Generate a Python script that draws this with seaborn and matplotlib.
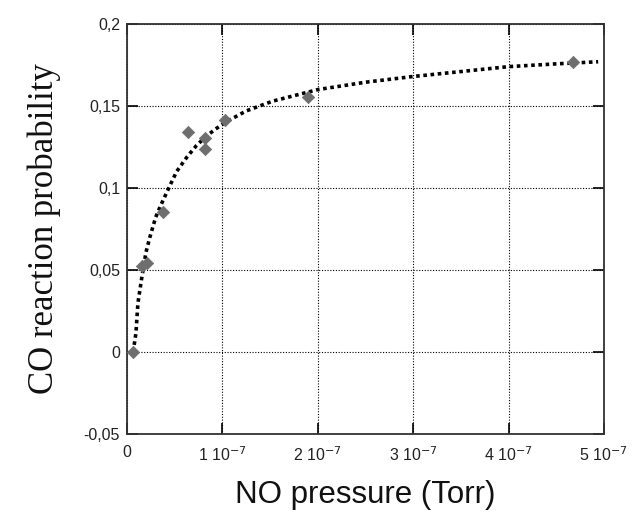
import matplotlib
matplotlib.use("Agg")
import matplotlib.pyplot as plt
import seaborn as sns
import pandas as pd

# measured data (x in units of 1e-7 Torr)
pressure = [0.06, 0.16, 0.21, 0.38, 0.64, 0.82, 0.82, 1.03, 1.90, 4.68]
probability = [0.0, 0.0524, 0.0543, 0.0854, 0.134, 0.1305, 0.124, 0.1415, 0.1555, 0.177]

# fitted curve
fit_x = [0.063, 0.08, 0.094, 0.115, 0.157, 0.20, 0.24, 0.30, 0.346, 0.43, 0.52, 0.63, 0.73,
         0.84, 0.93, 1.03, 1.25, 1.53, 2.0, 2.5, 3.0, 3.5, 4.0, 4.5, 4.94]
fit_y = [0.0, 0.006, 0.0116, 0.0300, 0.046, 0.061, 0.0700, 0.082, 0.0884, 0.099, 0.110, 0.119, 0.126,
         0.132, 0.136, 0.140, 0.147, 0.153, 0.160, 0.1645, 0.168, 0.171, 0.174, 0.1757, 0.177]

xticks = [0, 1, 2, 3, 4, 5]
xticklabels = ["0", "1 10$^{-7}$", "2 10$^{-7}$", "3 10$^{-7}$", "4 10$^{-7}$", "5 10$^{-7}$"]
yticks = [-0.05, 0, 0.05, 0.1, 0.15, 0.2]
yticklabels = ["-0,05", "0", "0,05", "0,1", "0,15", "0,2"]

sns.set_style("white")
plt.rcParams['font.family'] = ['Liberation Sans', 'DejaVu Sans']

fig = plt.figure(figsize=(6.33, 5.22), dpi=100)
ax = fig.add_axes([0.2006, 0.1686, 0.7534, 0.7854])

df_pts = pd.DataFrame({"x": pressure, "y": probability})
df_fit = pd.DataFrame({"x": fit_x, "y": fit_y})

sns.lineplot(data=df_fit, x="x", y="y", sort=False, estimator=None, ax=ax,
             color="black", linestyle=(0, (1, 1)), linewidth=2.6, zorder=3)
sns.scatterplot(data=df_pts, x="x", y="y", ax=ax, marker="D", s=40,
                color="#6e6e6e", edgecolor="#6e6e6e", linewidth=0.5, zorder=4)

ax.set_xlim(0, 5)
ax.set_ylim(-0.05, 0.2)
ax.set_xticks(xticks)
ax.set_xticklabels(xticklabels, fontsize=11.5)
ax.set_yticks(yticks)
ax.set_yticklabels(yticklabels, fontsize=11.5)

ax.grid(True, color="black", linestyle=(0, (1, 1.5)), linewidth=0.8)
ax.tick_params(direction="in", length=8, width=1.2, top=True, right=True,
               bottom=True, left=True, colors="black", labelcolor="#222222")
ax.tick_params(axis="y", pad=5)
ax.tick_params(axis="x", pad=8)
for s in ax.spines.values():
    s.set_color("#333333")
    s.set_linewidth(1.3)

ax.set_xlabel("NO pressure (Torr)", fontsize=22.5, labelpad=12, color="#111111")
ax.set_ylabel("CO reaction probability", fontsize=25, labelpad=16,
              family=["Liberation Serif", "DejaVu Serif"], color="#111111")

fig.savefig("out.png", dpi=100)
